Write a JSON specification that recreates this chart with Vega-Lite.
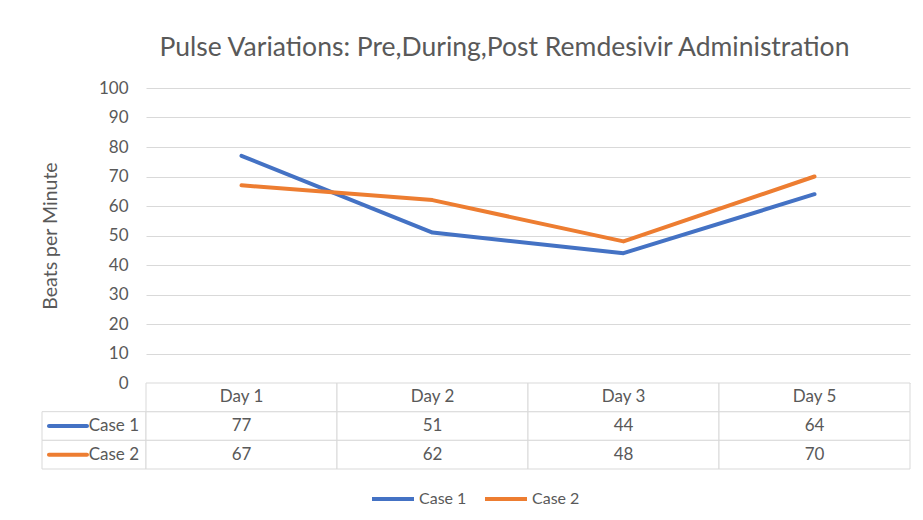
{
  "$schema": "https://vega.github.io/schema/vega-lite/v6.json",
  "padding": {"left": 40, "top": 34, "right": 5, "bottom": 5},
  "config": {
    "font": "Lato",
    "view": {"stroke": null},
    "text": {"color": "#595959"},
    "axis": {"labelColor": "#595959", "titleColor": "#595959"},
    "legend": {"layout": {"bottom": {"anchor": "middle"}}}
  },
  "title": {
    "text": "Pulse Variations: Pre,During,Post Remdesivir Administration",
    "fontSize": 26.5,
    "fontWeight": "normal",
    "color": "#595959",
    "anchor": "middle",
    "dx": 29,
    "offset": 18
  },
  "datasets": {
    "pulse": [
      {"day": "Day 1", "series": "Case 1", "bpm": 77},
      {"day": "Day 2", "series": "Case 1", "bpm": 51},
      {"day": "Day 3", "series": "Case 1", "bpm": 44},
      {"day": "Day 5", "series": "Case 1", "bpm": 64},
      {"day": "Day 1", "series": "Case 2", "bpm": 67},
      {"day": "Day 2", "series": "Case 2", "bpm": 62},
      {"day": "Day 3", "series": "Case 2", "bpm": 48},
      {"day": "Day 5", "series": "Case 2", "bpm": 70}
    ]
  },
  "columns": 2,
  "spacing": 0,
  "bounds": "flush",
  "concat": [
    {
      "width": 104,
      "height": 295,
      "data": {"values": []},
      "mark": "point"
    },
    {
      "width": 764,
      "height": 295,
      "data": {"name": "pulse"},
      "mark": {"type": "line", "strokeWidth": 4, "strokeCap": "round", "strokeJoin": "round"},
      "encoding": {
        "x": {"field": "day", "type": "nominal", "scale": {"type": "point", "padding": 0.5}, "axis": null},
        "y": {
          "field": "bpm",
          "type": "quantitative",
          "scale": {"domain": [0, 100]},
          "axis": {
            "values": [0, 10, 20, 30, 40, 50, 60, 70, 80, 90, 100],
            "title": "Beats per Minute",
            "grid": true,
            "gridColor": "#d9d9d9",
            "domain": false,
            "ticks": false,
            "labelFontSize": 17,
            "labelPadding": 18,
            "titleFontSize": 19.5,
            "titleFontWeight": "normal",
            "titlePadding": 38
          }
        },
        "color": {
          "field": "series",
          "type": "nominal",
          "scale": {"domain": ["Case 1", "Case 2"], "range": ["#4472C4", "#ED7D31"]},
          "legend": {
            "orient": "bottom",
            "direction": "horizontal",
            "title": null,
            "symbolType": "stroke",
            "symbolSize": 1764,
            "symbolStrokeWidth": 4,
            "labelFontSize": 16,
            "labelColor": "#595959",
            "labelOffset": 3,
            "columnPadding": 10,
            "offset": 6
          }
        }
      }
    },
    {
      "width": 104,
      "height": 86,
      "data": {"name": "pulse"},
      "transform": [{"filter": "datum.day === 'Day 1'"}],
      "encoding": {
        "y": {
          "field": "series",
          "type": "nominal",
          "scale": {"domain": ["header", "Case 1", "Case 2"], "paddingInner": 0, "paddingOuter": 0},
          "axis": null
        }
      },
      "layer": [
        {
          "mark": {"type": "rect", "fill": "white", "stroke": "#d9d9d9", "strokeWidth": 1},
          "encoding": {"x": {"value": 0}, "x2": {"value": "width"}}
        },
        {
          "mark": {"type": "tick", "orient": "horizontal", "size": 42, "thickness": 4, "cornerRadius": 2, "opacity": 1},
          "encoding": {
            "x": {"datum": "key", "type": "nominal", "scale": {"domain": ["key", "name"], "paddingInner": 0, "paddingOuter": 0}, "axis": null},
            "color": {"condition": {"test": "datum.series === 'Case 1'", "value": "#4472C4"}, "value": "#ED7D31"}
          }
        },
        {
          "mark": {"type": "text", "align": "right", "fontSize": 17, "dx": -7},
          "encoding": {
            "x": {"datum": "name", "type": "nominal", "bandPosition": 1},
            "text": {"field": "series"}
          }
        }
      ]
    },
    {
      "width": 764,
      "height": 86,
      "data": {"name": "pulse"},
      "encoding": {
        "x": {"field": "day", "type": "nominal", "scale": {"paddingInner": 0, "paddingOuter": 0}, "axis": null}
      },
      "layer": [
        {
          "mark": {"type": "rect", "fill": "white", "stroke": "#d9d9d9", "strokeWidth": 1},
          "encoding": {
            "y": {
              "field": "series",
              "type": "nominal",
              "scale": {"domain": ["header", "Case 1", "Case 2"], "paddingInner": 0, "paddingOuter": 0},
              "axis": null
            }
          }
        },
        {
          "transform": [{"filter": "datum.series === 'Case 1'"}],
          "mark": {"type": "rect", "fill": "white", "stroke": "#d9d9d9", "strokeWidth": 1},
          "encoding": {"y": {"datum": "header", "type": "nominal"}}
        },
        {
          "mark": {"type": "text", "fontSize": 17},
          "encoding": {
            "y": {"field": "series", "type": "nominal"},
            "text": {"field": "bpm", "type": "quantitative"}
          }
        },
        {
          "transform": [{"filter": "datum.series === 'Case 1'"}],
          "mark": {"type": "text", "fontSize": 17},
          "encoding": {
            "y": {"datum": "header", "type": "nominal"},
            "text": {"field": "day", "type": "nominal"}
          }
        }
      ]
    }
  ]
}
